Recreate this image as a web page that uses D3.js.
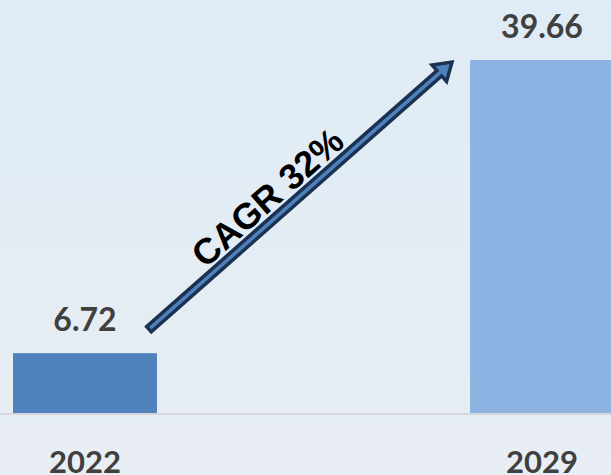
<!DOCTYPE html>
<html lang="en">
	<head>
		<meta charset="utf-8">
		<title>CAGR chart</title>
		<script type="text/javascript" src="https://cdn.jsdelivr.net/npm/d3@7"></script>
		<style type="text/css">
			body { margin: 0; }
		</style>
	</head>
	<body>
		<script type="text/javascript">

			//Data
			var years = ["2022", "2029"];
			var values = [6.72, 39.66];
			var barColors = ["#4f81bd", "#8db3e2"];
			var cagrLabel = "CAGR 32%";

			//Width and height
			var w = 611;
			var h = 475;
			var baseY = 413;

			var xScale = d3.scaleBand()
						   .domain(years)
						   .range([13, 614])
						   .paddingInner(0.685)
						   .paddingOuter(0);

			var yScale = d3.scaleLinear()
						   .domain([0, 40])
						   .range([baseY, 57]);

			var svg = d3.select("body")
						.append("svg")
						.attr("width", w)
						.attr("height", h);

			//Background gradient
			var defs = svg.append("defs");
			var grad = defs.append("linearGradient")
						   .attr("id", "bg")
						   .attr("x1", 0).attr("y1", 0)
						   .attr("x2", 0).attr("y2", 1);
			grad.append("stop").attr("offset", "0%").attr("stop-color", "#dfebf5");
			grad.append("stop").attr("offset", "100%").attr("stop-color", "#e8eef3");

			svg.append("rect")
			   .attr("width", w)
			   .attr("height", h)
			   .attr("fill", "url(#bg)");

			//Baseline
			svg.append("line")
			   .attr("x1", 0)
			   .attr("x2", w)
			   .attr("y1", baseY + 1)
			   .attr("y2", baseY + 1)
			   .attr("stroke", "#d3d7db")
			   .attr("stroke-width", 2);

			//Bars
			svg.selectAll("rect.bar")
			   .data(values)
			   .enter()
			   .append("rect")
			   .attr("class", "bar")
			   .attr("x", function(d, i) { return xScale(years[i]); })
			   .attr("y", function(d) { return yScale(d); })
			   .attr("width", xScale.bandwidth())
			   .attr("height", function(d) { return baseY - yScale(d); })
			   .attr("fill", function(d, i) { return barColors[i]; });

			//Value labels
			svg.selectAll("text.value")
			   .data(values)
			   .enter()
			   .append("text")
			   .attr("class", "value")
			   .attr("x", function(d, i) { return xScale(years[i]) + xScale.bandwidth() / 2; })
			   .attr("y", function(d) { return yScale(d) - 22; })
			   .attr("text-anchor", "middle")
			   .attr("font-family", "Lato, sans-serif")
			   .attr("font-weight", "bold")
			   .attr("font-size", "32px")
			   .attr("fill", "#404040")
			   .text(function(d) { return d.toFixed(2); });

			//Category labels (cut at the bottom edge, as in the original)
			svg.selectAll("text.year")
			   .data(years)
			   .enter()
			   .append("text")
			   .attr("class", "year")
			   .attr("x", function(d) { return xScale(d) + xScale.bandwidth() / 2; })
			   .attr("y", 473)
			   .attr("text-anchor", "middle")
			   .attr("font-family", "Lato, sans-serif")
			   .attr("font-weight", "bold")
			   .attr("font-size", "31px")
			   .attr("fill", "#404040")
			   .text(function(d) { return d; });

			//CAGR arrow, anchored to the two bars
			var x0 = xScale(years[0]) + xScale.bandwidth() - 8;
			var y0 = yScale(values[0]) - 24;
			var x1 = xScale(years[1]) - 18;
			var y1 = yScale(values[1]) + 2;
			var len = Math.sqrt((x1 - x0) * (x1 - x0) + (y1 - y0) * (y1 - y0));
			var ang = Math.atan2(y1 - y0, x1 - x0) * 180 / Math.PI;

			var half = 3.5;  //half shaft width
			var headW = 11;  //half head width
			var headL = 17;  //head length
			var arrowPts = [
				[0, -half], [len - headL, -half], [len - headL, -headW],
				[len, 0],
				[len - headL, headW], [len - headL, half], [0, half]
			];

			var arrow = svg.append("g")
						   .attr("transform", "translate(" + x0 + "," + y0 + ") rotate(" + ang + ")");

			arrow.append("polygon")
				 .attr("points", arrowPts.map(function(p) { return p.join(","); }).join(" "))
				 .attr("fill", "#4f81bd")
				 .attr("stroke", "#1b3150")
				 .attr("stroke-width", 3.5)
				 .attr("stroke-linejoin", "miter");

			arrow.append("text")
				 .attr("x", len / 2 - 26)
				 .attr("y", -8)
				 .attr("text-anchor", "middle")
				 .attr("font-family", "Liberation Sans, Arial, sans-serif")
				 .attr("font-weight", "bold")
				 .attr("font-size", "36px")
				 .attr("fill", "#000")
				 .text(cagrLabel);

		</script>
	</body>
</html>
